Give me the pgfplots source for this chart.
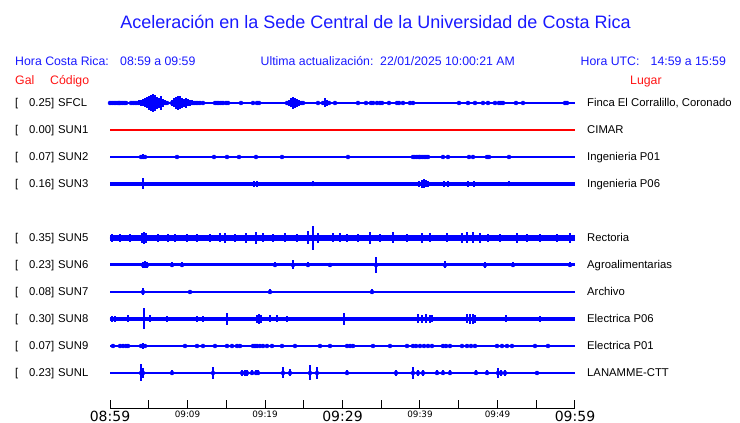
\documentclass[border=0pt]{standalone}
\usepackage{pgfplots}
\pgfplotsset{compat=1.18}
\usepackage{fontspec}
\setmainfont{Liberation Sans}
\newfontfamily\dv{DejaVu Sans}
\definecolor{tb}{RGB}{0,0,255}
\definecolor{txb}{RGB}{25,25,255}
\definecolor{txr}{RGB}{255,20,20}
\pgfplotsset{
  trace/.style={tb, only marks, mark=none,
    error bars/.cd, y dir=both, y explicit, error mark=none,
    error bar style={line width=1.3pt, tb}},
  densetrace/.style={tb, only marks, mark=none,
    error bars/.cd, y dir=both, y explicit, error mark=none,
    error bar style={line width=2pt, tb}},
}
\newcommand{\lab}[4]{%
  \node[anchor=base west, inner sep=0pt] at (15pt,#1pt-4pt) {[};
  \node[anchor=base east, inner sep=0pt] at (54.5pt,#1pt-4pt) {#2]};
  \node[anchor=base west, inner sep=0pt] at (58pt,#1pt-4pt) {#3};
  \node[anchor=base west, inner sep=0pt] at (587pt,#1pt-4pt) {#4};
}
\begin{document}
\begin{tikzpicture}
\useasboundingbox (0,0) rectangle (740pt,423pt);
\begin{axis}[
  at={(110pt,14pt)}, anchor=south west,
  x=7.75pt, y=1pt,
  xmin=0, xmax=60, ymin=14, ymax=340,
  clip=false,
  axis x line=bottom, axis y line=none,
  x axis line style={-, black, line width=1pt},
  xtick={0,5,...,60},
  xticklabels={{\fontsize{14}{14}\selectfont 08:59},{},{\fontsize{8.8}{9}\selectfont 09:09},{},{\fontsize{8.8}{9}\selectfont 09:19},{},{\fontsize{14}{14}\selectfont 09:29},{},{\fontsize{8.8}{9}\selectfont 09:39},{},{\fontsize{8.8}{9}\selectfont 09:49},{},{\fontsize{14}{14}\selectfont 09:59}},
  xticklabel style={inner sep=0pt, anchor=north, yshift=-1.5pt, font=\dv},
  tick align=inside, major tick length=9pt,
  tick style={black, line width=1pt},
  ytick=\empty,
]
% base lines
\addplot[tb, line width=1.2pt] coordinates {(0,320) (60,320)};
\addplot[red, line width=1.1pt] coordinates {(0,293) (60,293)};
\addplot[tb, line width=1.2pt] coordinates {(0,266) (60,266)};
\addplot[tb, line width=3.7pt] coordinates {(0,239) (60,239)};
\addplot[tb, line width=6.5pt] coordinates {(0,185) (60,185)};
\addplot[tb, line width=3pt] coordinates {(0,158) (60,158)};
\addplot[tb, line width=2.7pt] coordinates {(0,131) (60,131)};
\addplot[tb, line width=4pt] coordinates {(0,104) (60,104)};
\addplot[tb, line width=1.2pt] coordinates {(0,77) (60,77)};
\addplot[tb, line width=2.7pt] coordinates {(0,50) (60,50)};
% SFCL
\addplot[densetrace] table[x=m, y expr=320, y error=e, row sep=\\] {
m e\\ 0 1.8\\ 0.26 1.8\\ 0.52 1.8\\ 0.77 1.8\\ 1.03 1.8\\ 1.16 2.3\\ 1.29 1.8\\ 1.55 1.8\\ 1.81 1.8\\ 2.06 1.8\\
2.71 1.3\\ 2.97 1.3\\ 3.23 1.3\\ 3.48 1.3\\
3.74 2.5\\ 4.00 3\\ 4.26 3.5\\ 4.52 4.5\\ 4.77 5.5\\ 5.03 7\\ 5.29 8\\ 5.55 9\\ 5.81 8\\ 6.06 6\\ 6.32 5\\ 6.58 7\\ 6.84 4\\ 7.10 2.5\\ 7.35 1.5\\
8.00 3\\ 8.26 4.5\\ 8.52 6\\ 8.77 7\\ 9.03 6.5\\ 9.29 5\\ 9.55 4\\ 9.81 5\\ 10.06 3.5\\ 10.32 3\\ 10.58 2.5\\ 10.84 2\\ 11.10 2\\ 11.35 1.5\\ 11.61 1.5\\
13.55 1.5\\ 13.81 2\\ 14.06 2\\ 14.32 1.5\\ 14.58 1.5\\ 14.97 1.5\\
22.84 2\\ 23.10 3\\ 23.35 4.5\\ 23.61 6\\ 23.87 5\\ 24.13 4\\ 24.39 3\\ 24.65 2\\ 24.90 1\\
27.48 2\\ 27.74 4.5\\ 28.00 3\\ 28.26 1.5\\
};
\addplot[trace] table[x=m, y expr=320, y error=e, row sep=\\] {
m e\\ 12.00 1\\ 15.23 1.5\\ 16.90 1\\ 18.45 1\\ 18.97 1\\ 19.23 1\\ 26.84 1\\ 29.03 1.5\\
32.00 1.5\\ 33.03 1\\ 33.68 1.5\\ 33.94 1.5\\ 34.45 1.5\\ 34.84 1.5\\ 35.10 1.5\\ 36.00 1.5\\ 37.03 1.5\\ 37.29 1.5\\ 37.81 1.5\\ 38.71 1.5\\ 39.10 1.5\\
45.03 1.5\\ 46.19 1.5\\ 47.10 1\\ 48.13 1\\ 48.77 1.5\\ 49.68 1\\ 50.19 1.5\\ 50.45 1.5\\ 50.71 1.5\\ 52.39 1.5\\ 53.29 1\\ 58.71 2\\ 58.97 2\\
};
% SUN2
\addplot[trace] table[x=m, y expr=266, y error=e, row sep=\\] {
m e\\ 4.00 1.5\\ 4.26 2.5\\ 4.52 1.5\\ 8.65 1\\ 13.42 1.5\\ 15.10 1\\ 16.65 1\\ 18.84 1.5\\ 22.19 1\\ 30.71 1\\
42.97 1.5\\ 43.61 1.5\\ 46.32 1.5\\ 46.84 1.5\\ 48.65 1.5\\ 48.90 1\\ 51.48 1\\
};
\addplot[densetrace] table[x=m, y expr=266, y error=e, row sep=\\] {
m e\\ 39.10 1.5\\ 39.35 1.5\\ 39.61 1.5\\ 39.87 1.5\\ 40.00 2\\ 40.26 2\\ 40.52 2\\ 40.77 2\\ 41.03 1.5\\
};
% SUN3
\addplot[trace] table[x=m, y expr=239, y error=e, row sep=\\] {
m e\\ 4.26 5.5\\ 18.58 3\\ 18.97 3\\ 26.19 2.5\\ 39.87 3\\ 40.26 4\\ 40.52 4.5\\ 40.77 3.5\\ 41.03 3\\ 43.10 3\\ 43.61 3\\ 46.19 3\\ 46.97 3\\ 51.48 2.5\\
};
% SUN5
\addplot[trace] table[x=m, y expr=185, y error=e, row sep=\\] {
m e\\ 0.26 4\\ 1.29 4\\ 2.58 4\\ 4.13 5\\ 4.39 6\\ 4.65 5\\ 6.19 4\\ 7.48 4\\ 8.39 4\\ 9.94 3.8\\ 11.23 4\\ 12.90 3.8\\ 14.19 4.5\\ 14.84 5\\ 16.13 4\\ 17.55 5\\ 18.84 6\\ 19.74 4.5\\ 21.03 4\\ 22.58 4.5\\ 24.13 4\\ 25.55 6.5\\ 26.19 12\\ 26.84 5\\ 28.77 4.5\\ 29.68 4.5\\
30.58 4\\ 32.00 4\\ 33.55 6\\ 34.84 4\\ 36.52 5.5\\ 38.32 4\\ 40.26 5\\ 41.29 4.5\\ 43.48 4.5\\ 45.42 5\\ 46.06 5.5\\ 46.84 5.5\\ 47.74 5\\ 48.77 4\\ 50.32 4\\ 52.52 5\\ 53.81 4\\ 55.48 4\\ 57.68 4\\ 59.35 5\\
};
% SUN6
\addplot[trace] table[x=m, y expr=158, y error=e, row sep=\\] {
m e\\ 4.26 3\\ 4.52 3.5\\ 4.77 3\\ 8.00 2.5\\ 9.29 2.5\\ 21.29 2.5\\ 23.61 4.5\\ 25.55 2.5\\ 28.39 2\\ 34.32 8\\ 43.23 3.5\\ 48.39 3\\ 52.00 2.5\\ 59.35 2.5\\
};
% SUN7
\addplot[trace] table[x=m, y expr=131, y error=e, row sep=\\] {
m e\\ 4.26 3.5\\ 10.32 2\\ 20.65 2.5\\ 33.81 2.5\\
};
% SUN8
\addplot[trace] table[x=m, y expr=104, y error=e, row sep=\\] {
m e\\ 0.26 3\\ 0.65 3\\ 2.32 3.5\\ 4.39 10.5\\ 5.16 3.5\\ 7.35 3\\ 11.23 3\\ 12.00 3\\ 15.10 6\\ 18.97 4\\ 19.23 5\\ 19.48 4\\ 20.65 3.5\\ 21.55 3.5\\ 22.84 3\\ 30.19 6\\
39.74 4.5\\ 40.26 4\\ 40.77 4.5\\ 41.29 4\\ 41.55 3.5\\ 46.06 4.5\\ 46.45 5\\ 46.84 5\\ 47.10 4\\ 51.10 3.5\\ 55.48 3\\
};
% SUN9
\addplot[trace] table[x=m, y expr=77, y error=e, row sep=\\] {
m e\\ 0.39 1.5\\ 1.29 1.5\\ 1.68 1.5\\ 2.06 1.5\\ 2.32 1.5\\ 4.00 1.5\\ 4.26 3\\ 4.52 1.5\\ 9.68 1\\ 11.23 1\\ 12.00 1\\ 13.55 1\\ 15.10 1.5\\ 15.74 1.5\\ 16.39 1.5\\ 16.77 1.5\\ 18.45 1.5\\ 18.71 2\\ 18.97 2\\ 19.35 1.5\\ 19.74 1.5\\ 20.26 1.5\\ 20.90 1.5\\ 22.19 1\\ 23.87 1\\ 27.10 1\\ 28.39 1\\
30.58 1.5\\ 30.97 1.5\\ 31.35 1.5\\ 33.94 1\\ 36.13 1\\ 38.32 1\\ 39.10 1.5\\ 39.48 1.5\\ 40.00 1.5\\ 40.52 1.5\\ 41.03 1.5\\ 41.55 1.5\\ 42.97 2\\ 43.35 2\\ 43.87 2\\ 45.42 1\\ 46.06 1.5\\ 46.58 1.5\\ 47.10 1.5\\ 49.94 1.5\\ 50.58 1.5\\ 51.23 1.5\\ 51.87 1.5\\ 54.84 1\\ 56.52 1\\
};
% SUNL
\addplot[trace] table[x=m, y expr=50, y error=e, row sep=\\] {
m e\\ 4.00 8.5\\ 4.26 5\\ 8.00 2.5\\ 13.29 6\\ 17.03 3\\ 17.42 3\\ 17.68 3\\ 18.32 2.5\\ 18.84 2.5\\ 19.10 2.5\\ 22.32 5.5\\ 23.23 3.5\\ 25.81 7.5\\ 26.71 6\\ 30.58 2.5\\ 36.90 3\\ 39.10 6\\ 39.74 3\\ 40.39 3\\ 42.19 2.5\\ 42.97 2.5\\ 43.87 2.5\\ 47.23 2.5\\ 48.65 2.5\\ 50.06 5\\ 50.45 3\\ 50.97 3\\ 55.10 2\\
};
\end{axis}
% titles
\node[anchor=base, inner sep=0pt, text=txb, font=\fontsize{18}{20}\selectfont] at (375.5pt,394.5pt) {Aceleración en la Sede Central de la Universidad de Costa Rica};
\begin{scope}[every node/.style={anchor=base west, inner sep=0pt, text=txb, font=\fontsize{12.3}{14}\selectfont}]
\node at (15pt,357.5pt) {Hora Costa Rica:};
\node at (120pt,357.5pt) {08:59 a 09:59};
\node at (260.5pt,357.5pt) {Ultima actualización:};
\node at (380pt,357.5pt) {22/01/2025 10:00:21 AM};
\node at (580.5pt,357.5pt) {Hora UTC:};
\node at (650.5pt,357.5pt) {14:59 a 15:59};
\end{scope}
\begin{scope}[every node/.style={anchor=base west, inner sep=0pt, text=txr, font=\fontsize{12.3}{14}\selectfont}]
\node at (15pt,338pt) {Gal};
\node at (50pt,338pt) {Código};
\node at (630pt,338pt) {Lugar};
\end{scope}
\begin{scope}[every node/.style={font=\fontsize{11.3}{13}\selectfont}]
\lab{320}{0.25}{SFCL}{Finca El Corralillo, Coronado}
\lab{293}{0.00}{SUN1}{CIMAR}
\lab{266}{0.07}{SUN2}{Ingenieria P01}
\lab{239}{0.16}{SUN3}{Ingenieria P06}
\lab{185}{0.35}{SUN5}{Rectoria}
\lab{158}{0.23}{SUN6}{Agroalimentarias}
\lab{131}{0.08}{SUN7}{Archivo}
\lab{104}{0.30}{SUN8}{Electrica P06}
\lab{77}{0.07}{SUN9}{Electrica P01}
\lab{50}{0.23}{SUNL}{LANAMME-CTT}
\end{scope}
\end{tikzpicture}
\end{document}
